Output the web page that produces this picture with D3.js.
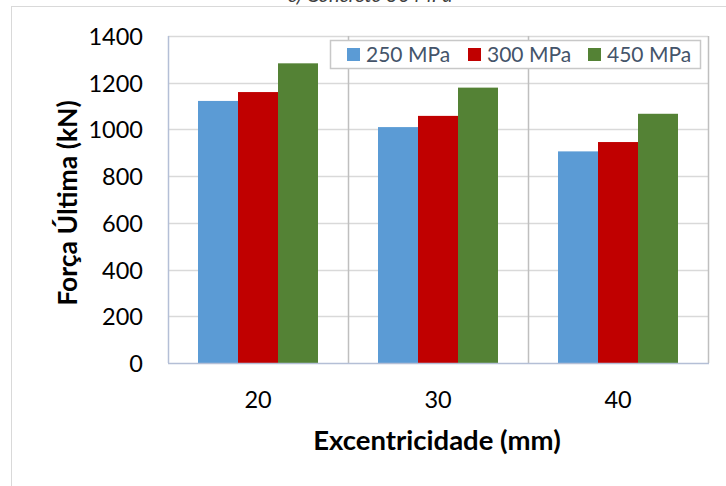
<!DOCTYPE html>
<html>
<head>
<meta charset="utf-8">
<script src="https://cdn.jsdelivr.net/npm/d3@7/dist/d3.min.js"></script>
<style>
  html, body { margin: 0; padding: 0; background: #fff; }
  svg { display: block; font-family: Lato, "Open Sans", sans-serif; }
</style>
</head>
<body>
<svg id="chart" width="726" height="486"></svg>
<script>
// Eccentricity categories (mm)
const categories = ["20", "30", "40"];
// Steel yield strength series
const seriesNames = ["250 MPa", "300 MPa", "450 MPa"];
const seriesColors = ["#5B9BD5", "#C00000", "#548235"];
// Ultimate force (kN) per series, one value per category
const values250 = [1122, 1010, 906];
const values300 = [1160, 1058, 946];
const values450 = [1283, 1179, 1067];
const yTicks = [0, 200, 400, 600, 800, 1000, 1200, 1400];

const seriesValues = [values250, values300, values450];

const svg = d3.select("#chart");
const plot = { left: 168, right: 708, top: 36, bottom: 363 };

// Outer chart frame (extends past the page edges)
svg.append("rect")
  .attr("x", 11.5).attr("y", 6.5)
  .attr("width", 760).attr("height", 520)
  .attr("fill", "#fff").attr("stroke", "#d9d9d9").attr("stroke-width", 1);

// Title, sitting above the frame
svg.append("text")
  .attr("x", 370).attr("y", 2)
  .attr("text-anchor", "middle")
  .attr("font-size", 20).attr("font-style", "italic")
  .attr("fill", "#404040")
  .text("c) Concreto 50 MPa");

const x0 = d3.scaleBand().domain(categories).range([plot.left, plot.right]).padding(0);
const x1 = d3.scaleBand().domain(seriesNames).range([0, x0.bandwidth()])
  .paddingInner(0).paddingOuter(0.75);
const y = d3.scaleLinear().domain([0, 1400]).range([plot.bottom, plot.top]);

// Horizontal gridlines
svg.append("g").selectAll("line").data(yTicks.filter(d => d > 0)).join("line")
  .attr("x1", plot.left).attr("x2", plot.right)
  .attr("y1", d => Math.round(y(d)) + 0.5).attr("y2", d => Math.round(y(d)) + 0.5)
  .attr("stroke", "#d9d9d9").attr("stroke-width", 1.5);

// Vertical separators between categories
svg.append("g").selectAll("line").data(categories.slice(1)).join("line")
  .attr("x1", d => Math.round(x0(d)) + 0.5).attr("x2", d => Math.round(x0(d)) + 0.5)
  .attr("y1", plot.top).attr("y2", plot.bottom)
  .attr("stroke", "#bfbfbf").attr("stroke-width", 1.5);

// Right border
svg.append("line")
  .attr("x1", plot.right + 0.5).attr("x2", plot.right + 0.5)
  .attr("y1", plot.top).attr("y2", plot.bottom)
  .attr("stroke", "#bfbfbf").attr("stroke-width", 1.5);

// Bars
const groups = svg.append("g").selectAll("g").data(categories).join("g")
  .attr("transform", d => `translate(${x0(d)},0)`);
groups.selectAll("rect")
  .data((c, ci) => seriesNames.map((s, si) => ({ s, si, v: seriesValues[si][ci] })))
  .join("rect")
  .attr("x", d => x1(d.s))
  .attr("width", x1.bandwidth())
  .attr("y", d => y(d.v))
  .attr("height", d => y(0) - y(d.v))
  .attr("fill", d => seriesColors[d.si]);

// Axes lines (left and bottom)
svg.append("line")
  .attr("x1", plot.left + 0.5).attr("x2", plot.left + 0.5)
  .attr("y1", plot.top).attr("y2", plot.bottom)
  .attr("stroke", "#b4bfd6").attr("stroke-width", 1.5);
svg.append("line")
  .attr("x1", plot.left).attr("x2", plot.right + 1)
  .attr("y1", plot.bottom + 0.5).attr("y2", plot.bottom + 0.5)
  .attr("stroke", "#b4bfd6").attr("stroke-width", 1.5);

// Y axis tick labels
const yAxis = d3.axisLeft(y).tickValues(yTicks).tickFormat(d3.format("d"))
  .tickSize(0).tickPadding(25);
const gy = svg.append("g").attr("transform", `translate(${plot.left},0)`).call(yAxis);
gy.select(".domain").remove();
gy.selectAll("text").attr("font-size", 23.5).attr("fill", "#000")
  .attr("font-family", "Lato, sans-serif").attr("dy", "0.36em");

// X axis tick labels
const xAxis = d3.axisBottom(x0).tickSize(0);
const gx = svg.append("g").attr("transform", `translate(0,${plot.bottom})`).call(xAxis);
gx.select(".domain").remove();
gx.selectAll("text").attr("font-size", 23.5).attr("fill", "#000")
  .attr("font-family", "Lato, sans-serif").attr("y", 45).attr("dy", 0);

// Axis titles
svg.append("text")
  .attr("x", 437).attr("y", 450)
  .attr("text-anchor", "middle")
  .attr("font-size", 27.5).attr("font-weight", "bold").attr("fill", "#000")
  .text("Excentricidade (mm)");
svg.append("text")
  .attr("transform", "translate(77,203) rotate(-90)")
  .attr("text-anchor", "middle")
  .attr("font-size", 26.5).attr("font-weight", "bold").attr("fill", "#000")
  .text("Força Última (kN)");

// Legend
const legend = svg.append("g");
legend.append("rect")
  .attr("x", 330.5).attr("y", 40.5).attr("width", 370).attr("height", 28)
  .attr("fill", "#fff").attr("stroke", "#c8c8c8").attr("stroke-width", 1.5);
const legendX = [347, 468, 588];
const items = legend.selectAll("g").data(seriesNames).join("g")
  .attr("transform", (d, i) => `translate(${legendX[i]},48)`);
items.append("rect").attr("width", 13).attr("height", 13)
  .attr("fill", (d, i) => seriesColors[i]);
items.append("text").attr("x", 19).attr("y", 13.5)
  .attr("font-size", 21).attr("fill", "#44546A")
  .text(d => d);
</script>
</body>
</html>
